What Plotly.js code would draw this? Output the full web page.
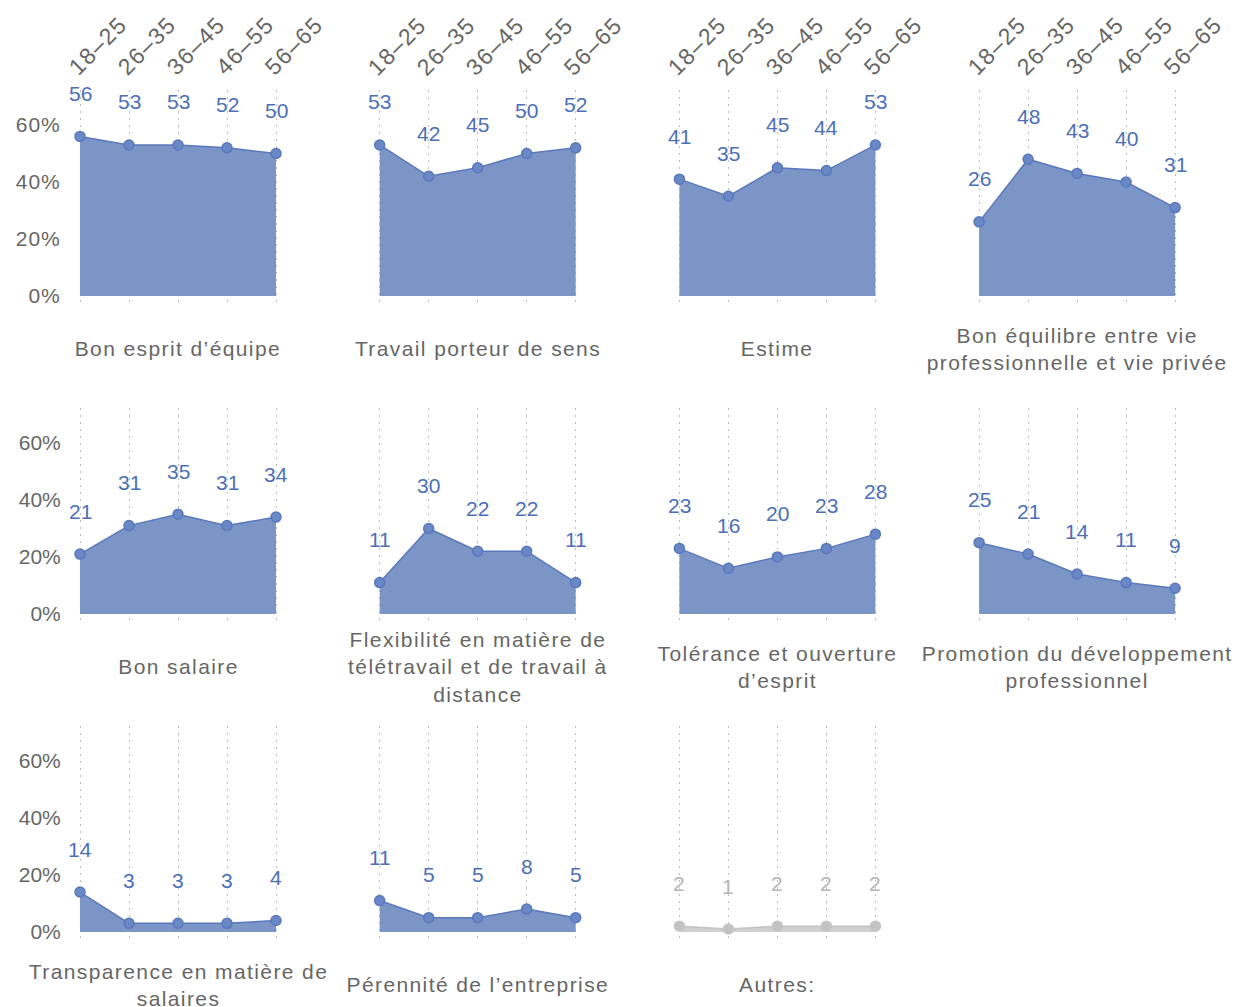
<!DOCTYPE html>
<html>
<head>
<meta charset="utf-8">
<script src="https://cdn.plot.ly/plotly-3.0.1.min.js"></script>
<style>
  html, body { margin: 0; padding: 0; background: #ffffff; }
  #chart { width: 1237px; height: 1007px; }
  .ytick text { letter-spacing: 1px; }
</style>
</head>
<body>
<div id="chart"></div>
<script>
// Age brackets shared by every small panel
const ageGroups = ['18–25', '26–35', '36–45', '46–55', '56–65'];

// Share of respondents (%) per age bracket for each criterion
const espritEquipe  = [56, 53, 53, 52, 50];
const travailSens   = [53, 42, 45, 50, 52];
const estime        = [41, 35, 45, 44, 53];
const equilibreVie  = [26, 48, 43, 40, 31];
const salaire       = [21, 31, 35, 31, 34];
const flexibilite   = [11, 30, 22, 22, 11];
const tolerance     = [23, 16, 20, 23, 28];
const developpement = [25, 21, 14, 11, 9];
const transparence  = [14, 3, 3, 3, 4];
const perennite     = [11, 5, 5, 8, 5];
const autres        = [2, 1, 2, 2, 2];

// Panel titles, in reading order
const panelTitles = [
  'Bon esprit d’équipe',
  'Travail porteur de sens',
  'Estime',
  'Bon équilibre entre vie<br>professionnelle et vie privée',
  'Bon salaire',
  'Flexibilité en matière de<br>télétravail et de travail à<br>distance',
  'Tolérance et ouverture<br>d’esprit',
  'Promotion du développement<br>professionnel',
  'Transparence en matière de<br>salaires',
  'Pérennité de l’entreprise',
  'Autres:'
];
const panelValues = [
  espritEquipe, travailSens, estime, equilibreVie,
  salaire, flexibilite, tolerance, developpement,
  transparence, perennite, autres
];
const yTickValues = [0, 20, 40, 60];
const yTickLabels = yTickValues.map(v => v + '%');

// Styling
const W = 1237, H = 1007;
const FONT = 'Liberation Sans, Arial, sans-serif';
const blue = { fill: '#7b96c6', line: '#5a78bc', marker: '#6a88c6', text: '#4d6fb8' };
const grey = { fill: '#d0d0d0', line: '#c4c4c4', marker: '#c2c2c2', text: '#b4b4b4' };

// Grid geometry in pixels
const colFirstCat = c => 80 + 299.7 * c;
const catSpan = 196;
const pad = 12.25;
const rowTop = r => 90 + 318 * r;
const rowBottom = r => 303 + 318 * r;

const data = [];
const spacedNotes = [];   // titles and age labels, drawn with wider tracking
const valueNotes = [];
const layout = {
  width: W, height: H,
  margin: { l: 0, r: 0, t: 0, b: 0 },
  paper_bgcolor: '#ffffff',
  plot_bgcolor: 'rgba(0,0,0,0)',
  showlegend: false,
  font: { family: FONT, color: '#666666', size: 20 }
};

panelValues.forEach((vals, i) => {
  const r = Math.floor(i / 4), c = i % 4;
  const n = i + 1;
  const xName = n === 1 ? 'x' : 'x' + n;
  const yName = n === 1 ? 'y' : 'y' + n;
  const pal = (i === panelValues.length - 1) ? grey : blue;

  data.push({
    type: 'scatter',
    x: ageGroups,
    y: vals,
    xaxis: xName,
    yaxis: yName,
    mode: 'lines+markers',
    fill: 'tozeroy',
    fillcolor: pal.fill,
    line: { color: pal.line, width: 1.5 },
    marker: { size: 10, color: pal.marker, line: { color: pal.line, width: 1.5 } },
    cliponaxis: false,
    hoverinfo: 'skip'
  });

  const x0 = colFirstCat(c) - pad;
  const x1 = colFirstCat(c) + catSpan + pad;
  layout['xaxis' + (n === 1 ? '' : n)] = {
    domain: [x0 / W, x1 / W],
    anchor: yName,
    type: 'category',
    categoryarray: ageGroups,
    range: [-0.25, 4.25],
    showgrid: true,
    gridcolor: '#bdbdbd',
    griddash: '2px,5px',
    gridwidth: 1,
    zeroline: false,
    showline: false,
    ticks: '',
    showticklabels: false,
    fixedrange: true
  };
  layout['yaxis' + (n === 1 ? '' : n)] = {
    domain: [1 - rowBottom(r) / H, 1 - rowTop(r) / H],
    anchor: xName,
    range: [-2.5, 72.3],
    tickvals: yTickValues,
    ticktext: yTickLabels,
    ticklabelstandoff: 6,
    showticklabels: c === 0,
    showgrid: false,
    zeroline: false,
    showline: false,
    ticks: '',
    tickfont: { family: FONT, size: 21, color: '#666666' },
    fixedrange: true
  };

  // panel title below the plot
  spacedNotes.push({
    xref: xName + ' domain', yref: yName,
    x: 0.5, y: 0,
    yshift: -53,
    text: panelTitles[i],
    showarrow: false,
    xanchor: 'center', yanchor: 'middle',
    align: 'center',
    font: { family: FONT, size: 21, color: '#666666' }
  });

  // slanted age labels above the top row
  if (r === 0) {
    ageGroups.forEach(g => {
      spacedNotes.push({
        xref: xName, yref: yName + ' domain',
        x: g, y: 1,
        xshift: 17.5, yshift: 44,
        text: g,
        textangle: -45,
        showarrow: false,
        xanchor: 'center', yanchor: 'middle',
        font: { family: FONT, size: 23, color: '#666666' }
      });
    });
  }

  // value labels above each point
  vals.forEach((v, k) => {
    valueNotes.push({
      xref: xName, yref: yName,
      x: ageGroups[k], y: v,
      text: String(v),
      showarrow: false,
      yshift: 43,
      xanchor: 'center', yanchor: 'middle',
      font: { family: FONT, size: 21, color: pal.text }
    });
  });
});

layout.annotations = spacedNotes.concat(valueNotes);

Plotly.newPlot('chart', data, layout, { displayModeBar: false, staticPlot: true }).then(gd => {
  // wider tracking on titles and age labels
  gd.querySelectorAll('g.annotation').forEach(g => {
    const idx = Number(g.getAttribute('data-index'));
    if (idx < spacedNotes.length) {
      g.querySelectorAll('text').forEach(t => { t.style.letterSpacing = '1.4px'; });
    }
  });
});
</script>
</body>
</html>
